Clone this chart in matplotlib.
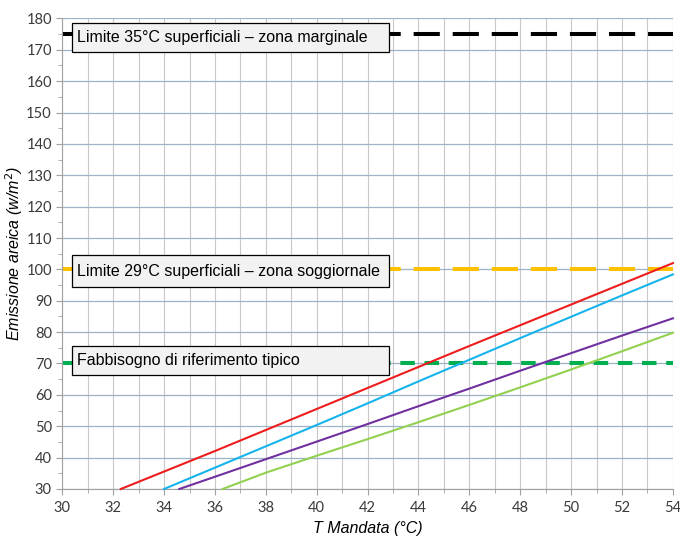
import numpy as np
import matplotlib.pyplot as plt
from matplotlib.patches import Rectangle

# mandata temperature (°C) and emission (W/m2)
t_red = [32.3, 36, 38, 40, 42, 44, 46, 48, 50, 52, 54]
e_red = [30, 42.1, 48.8, 55.5, 62.2, 68.9, 75.6, 82.2, 88.8, 95.4, 102.0]
t_blue = [34.0, 36, 38, 40, 42, 44, 46, 48, 50, 52, 54]
e_blue = [30, 36.8, 43.6, 50.4, 57.3, 64.3, 71.2, 78.1, 84.9, 91.7, 98.4]
t_purple = [34.6, 36, 38, 40, 42, 44, 46, 48, 50, 52, 54]
e_purple = [30, 33.9, 39.5, 45.1, 50.7, 56.4, 62.0, 67.7, 73.3, 78.9, 84.4]
t_green = [36.3, 38, 40, 42, 44, 46, 48, 50, 52, 54]
e_green = [30, 35.2, 40.6, 45.9, 51.3, 56.8, 62.4, 68.1, 73.9, 79.8]

limits = [175, 100, 70]
limit_labels = ['Limite 35°C superficiali – zona marginale',
                'Limite 29°C superficiali – zona soggiornale',
                'Fabbisogno di riferimento tipico']
limit_colors = ['black', '#ffc000', '#00b050']
limit_dashes = [(6.5, 3.2), (6.5, 3.2), (3.6, 2.4)]
box_ranges = [(169.3, 178.5), (94.3, 104.5), (66.3, 75.6)]

fig = plt.figure(figsize=(6.8, 5.36), dpi=100)
ax = fig.add_axes([0.0916, 0.0877, 0.898, 0.878])

ax.set_xlim(30, 54)
ax.set_ylim(30, 180)
ax.set_xticks(np.arange(30, 55, 2))
ax.set_xticks(np.arange(30, 55, 1), minor=True)
ax.set_yticks(np.arange(30, 181, 10))
ax.set_yticks(np.arange(35, 180, 10), minor=True)

ax.grid(which='minor', axis='x', color='#c8c8c8', lw=0.8)
ax.grid(which='major', axis='x', color='#c8c8c8', lw=0.8)
ax.grid(which='major', axis='y', color='#9fb3c8', lw=0.9)
ax.set_axisbelow(True)

for s in ['top', 'right']:
    ax.spines[s].set_visible(False)
for s in ['left', 'bottom']:
    ax.spines[s].set_color('#a0a0a0')
ax.tick_params(which='both', color='#a0a0a0', labelsize=10.5, labelcolor='#3a3a3a')
ax.tick_params(which='major', length=4)
ax.tick_params(which='minor', length=3)
ax.tick_params(axis='x', which='major', pad=5)
for lab in ax.get_xticklabels() + ax.get_yticklabels():
    lab.set_family('Lato')

for y, c, d in zip(limits, limit_colors, limit_dashes):
    ax.axhline(y, color=c, lw=2.9, dashes=d, zorder=2)

ax.plot(t_red, e_red, color='#ee1c1c', lw=1.5, zorder=3, clip_on=False)
ax.plot(t_blue, e_blue, color='#16b4ec', lw=1.5, zorder=3, clip_on=False)
ax.plot(t_purple, e_purple, color='#7030a0', lw=1.5, zorder=3, clip_on=False)
ax.plot(t_green, e_green, color='#92d050', lw=1.5, zorder=3, clip_on=False)

for (y0, y1), lab in zip(box_ranges, limit_labels):
    ax.add_patch(Rectangle((30.38, y0), 42.84 - 30.38, y1 - y0, facecolor='#f2f2f2',
                           edgecolor='black', lw=0.9, zorder=4))
    ax.text(30.58, (y0 + y1) / 2, lab, fontsize=11.5, family='Liberation Sans',
            va='center', ha='left', zorder=5)

ax.set_xlabel('T Mandata (°C)', fontsize=11.5, family='Liberation Sans', style='italic', labelpad=4)
ax.set_ylabel('Emissione areica (w/m$^2$)', fontsize=11.5, family='Liberation Sans',
              style='italic', labelpad=1)

fig.savefig('out.png', dpi=100)
